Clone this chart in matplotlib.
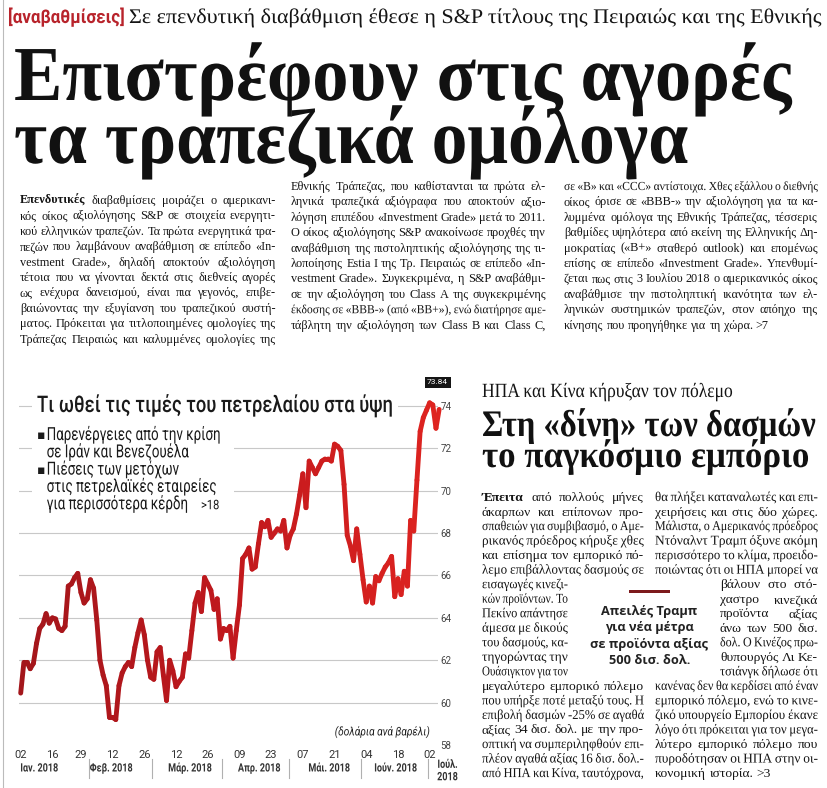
import matplotlib
matplotlib.use('Agg')
import matplotlib.pyplot as plt
from matplotlib.patches import Rectangle
from matplotlib.collections import LineCollection
from matplotlib.colors import LinearSegmentedColormap
from matplotlib.patheffects import AbstractPathEffect
from matplotlib.transforms import Affine2D
import numpy as np

W, H = 828, 788

# Τιμή πετρελαίου (δολάρια/βαρέλι), μία τιμή ανά εργάσιμη από 02/01/2018
timi = [
    60.45, 61.9, 61.9, 61.6, 61.85, 62.8, 63.5, 63.7, 64.2, 63.75,
    64.0, 63.95, 63.5, 63.4, 63.6, 65.5, 65.6, 65.9, 66.1, 65.2,
    64.7, 64.9, 65.8, 65.4, 63.9, 62.0, 61.3, 60.8, 59.3, 59.3,
    59.2, 60.8, 61.4, 61.7, 61.9, 61.7, 62.6, 63.3, 63.9, 63.2,
    62.0, 61.2, 61.1, 62.4, 62.6, 61.3, 60.1, 62.0, 61.5, 60.75,
    61.0, 61.2, 62.3, 62.1, 63.4, 64.7, 65.2, 64.3, 65.9, 65.6,
    65.3, 64.4, 64.9, 63.0, 63.5, 63.4, 63.6, 62.1, 63.4, 64.6,
    66.8, 67.0, 67.3, 66.3, 66.4, 67.5, 68.5, 68.3, 68.6, 67.8,
    68.0, 68.2, 68.1, 68.6, 67.3, 67.9, 68.2, 68.9, 69.8, 70.8,
    69.2, 71.4, 71.1, 70.8, 71.1, 71.4, 71.5, 71.5, 71.4, 72.2,
    72.1, 71.9, 70.3, 67.9, 67.4, 66.7, 68.2, 67.0, 65.8, 64.75,
    65.5, 64.7, 65.95, 65.75, 66.1, 66.4, 66.6, 66.9, 65.0, 65.85,
    65.1, 66.2, 65.5, 68.6, 68.1, 70.5, 72.8, 73.45, 73.8, 74.15,
    74.05, 72.95, 73.84,
]
tick_pos = [0, 10, 19, 29, 39, 49, 59, 69, 79, 89, 99, 109, 119, 129]
tick_lbl = ['02', '16', '29', '12', '26', '12', '26', '09', '23', '07', '21', '04', '18', '02']
mines = ['Ιαν. 2018', 'Φεβ. 2018', 'Μάρ. 2018', 'Απρ. 2018', 'Μάι. 2018', 'Ιούν. 2018', 'Ιούλ.\n2018']
orio_mina = [21.5, 41.5, 63.5, 84.5, 107.5, 128.5]
y_ticks = [58, 60, 62, 64, 66, 68, 70, 72, 74]

# Κείμενα σελίδας
kicker_red = '[αναβαθμίσεις]'
kicker = 'Σε επενδυτική διαβάθμιση έθεσε η S&P τίτλους της Πειραιώς και της Εθνικής'
titlos = ['Επιστρέφουν στις αγορές', 'τα τραπεζικά ομόλογα']

stili1 = [
    '*Επενδυτικές διαβαθμίσεις μοιράζει ο αμερικανι-',
    'κός οίκος αξιολόγησης S&P σε στοιχεία ενεργητι-',
    'κού ελληνικών τραπεζών. Τα πρώτα ενεργητικά τρα-',
    'πεζών που λαμβάνουν αναβάθμιση σε επίπεδο «In-',
    'vestment Grade», δηλαδή αποκτούν αξιολόγηση',
    'τέτοια που να γίνονται δεκτά στις διεθνείς αγορές',
    'ως ενέχυρα δανεισμού, είναι πια γεγονός, επιβε-',
    'βαιώνοντας την εξυγίανση του τραπεζικού συστή-',
    'ματος. Πρόκειται για τιτλοποιημένες ομολογίες της',
    'Τράπεζας Πειραιώς και καλυμμένες ομολογίες της',
]
stili2 = [
    'Εθνικής Τράπεζας, που καθίστανται τα πρώτα ελ-',
    'ληνικά τραπεζικά αξιόγραφα που αποκτούν αξιο-',
    'λόγηση επιπέδου «Investment Grade» μετά το 2011.',
    'Ο οίκος αξιολόγησης S&P ανακοίνωσε προχθές την',
    'αναβάθμιση της πιστοληπτικής αξιολόγησης της τι-',
    'λοποίησης Estia I της Τρ. Πειραιώς σε επίπεδο «In-',
    'vestment Grade». Συγκεκριμένα, η S&P αναβάθμι-',
    'σε την αξιολόγηση του Class A της συγκεκριμένης',
    'έκδοσης σε «BBB-» (από «BB+»), ενώ διατήρησε αμε-',
    'τάβλητη την αξιολόγηση των Class B και Class C,',
]
stili3 = [
    'σε «B» και «CCC» αντίστοιχα. Χθες εξάλλου ο διεθνής',
    'οίκος όρισε σε «BBB-» την αξιολόγηση για τα κα-',
    'λυμμένα ομόλογα της Εθνικής Τράπεζας, τέσσερις',
    'βαθμίδες υψηλότερα από εκείνη της Ελληνικής Δη-',
    'μοκρατίας («B+» σταθερό outlook) και επομένως',
    'επίσης σε επίπεδο «Investment Grade». Υπενθυμί-',
    'ζεται πως στις 3 Ιουλίου 2018 ο αμερικανικός οίκος',
    'αναβάθμισε την πιστοληπτική ικανότητα των ελ-',
    'ληνικών συστημικών τραπεζών, στον απόηχο της',
    'κίνησης που προηγήθηκε για τη χώρα. >7',
]

graf_titlos = 'Τι ωθεί τις τιμές του πετρελαίου στα ύψη'
koukides = [
    ('▪', 'Παρενέργειες από την κρίση'),
    ('', 'σε Ιράν και Βενεζουέλα'),
    ('▪', 'Πιέσεις των μετόχων'),
    ('', 'στις πετρελαϊκές εταιρείες'),
    ('', 'για περισσότερα κέρδη'),
]

kicker2 = 'ΗΠΑ και Κίνα κήρυξαν τον πόλεμο'
titlos2 = ['Στη «δίνη» των δασμών', 'το παγκόσμιο εμπόριο']
stiliA = [
    '*Έπειτα από πολλούς μήνες',
    'άκαρπων και επίπονων προ-',
    'σπαθειών για συμβιβασμό, ο Αμε-',
    'ρικανός πρόεδρος κήρυξε χθες',
    'και επίσημα τον εμπορικό πό-',
    'λεμο επιβάλλοντας δασμούς σε',
    'εισαγωγές κινεζι-',
    'κών προϊόντων. Το',
    'Πεκίνο απάντησε',
    'άμεσα με δικούς',
    'του δασμούς, κα-',
    'τηγορώντας την',
    'Ουάσιγκτον για τον',
    'μεγαλύτερο εμπορικό πόλεμο',
    'που υπήρξε ποτέ μεταξύ τους. Η',
    'επιβολή δασμών -25% σε αγαθά',
    'αξίας 34 δισ. δολ. με την προ-',
    'οπτική να συμπεριληφθούν επι-',
    'πλέον αγαθά αξίας 16 δισ. δολ.-',
    'από ΗΠΑ και Κίνα, ταυτόχρονα,',
]
stiliB = [
    'θα πλήξει καταναλωτές και επι-',
    'χειρήσεις και στις δύο χώρες.',
    'Μάλιστα, ο Αμερικανός πρόεδρος',
    'Ντόναλντ Τραμπ όξυνε ακόμη',
    'περισσότερο το κλίμα, προειδο-',
    'ποιώντας ότι οι ΗΠΑ μπορεί να',
    'βάλουν στο στό-',
    'χαστρο κινεζικά',
    'προϊόντα αξίας',
    'άνω των 500 δισ.',
    'δολ. Ο Κινέζος πρω-',
    'θυπουργός Λι Κε-',
    'τσιάνγκ δήλωσε ότι',
    'κανένας δεν θα κερδίσει από έναν',
    'εμπορικό πόλεμο, ενώ το κινε-',
    'ζικό υπουργείο Εμπορίου έκανε',
    'λόγο ότι πρόκειται για τον μεγα-',
    'λύτερο εμπορικό πόλεμο που',
    'πυροδότησαν οι ΗΠΑ στην οι-',
    'κονομική ιστορία. >3',
]
apospasma = ['Απειλές Τραμπ', 'για νέα μέτρα', 'σε προϊόντα αξίας', '500 δισ. δολ.']

# Γραμματοσειρές / χρώματα
SERIF = ['Liberation Serif', 'DejaVu Serif']
SANS = ['Roboto', 'Liberation Sans', 'DejaVu Sans']
INK = '#141414'

fig = plt.figure(figsize=(W / 100, H / 100), dpi=100)
fig.patch.set_facecolor('white')
r = fig.canvas.get_renderer()


class Psilo(AbstractPathEffect):
    # τεντώνει κάθετα το σχέδιο του κειμένου γύρω από ένα σημείο,
    # ώστε να μοιάζει με τα στενά τυπογραφικά της εφημερίδας
    def __init__(self, sy, cx, cy):
        super().__init__()
        self.t = Affine2D().translate(-cx, -cy).scale(1.0, sy).translate(cx, cy)

    def draw_path(self, renderer, gc, tpath, affine, rgbFace=None):
        renderer.draw_path(gc, tpath, affine + self.t, rgbFace)


def txt(x, y, s, **kw):
    # x, y σε pixel από πάνω αριστερά
    return fig.text(x / W, 1 - y / H, s, **kw)


def platos(s, **kw):
    t = txt(0, 0, s, fontsize=10, **kw)
    w = t.get_window_extent(r).width
    t.remove()
    return w


def stena(x0, y, s, size, x1=None, fs=None, **kw):
    # πλάτος από το x0..x1 (ή δοσμένο fs), ύψος σαν γραμματοσειρά μεγέθους size
    if fs is None:
        fs = 10 * (x1 - x0) / platos(s, **kw)
    t = txt(x0, y, s, fontsize=fs, **kw)
    t.set_path_effects([Psilo(size / fs, x0, H - y)])
    return t, fs


def megethos(lines, width):
    # μέγεθος ώστε η μέση γραμμή της στήλης να γεμίζει σχεδόν το πλάτος
    ws = sorted(platos(l.replace('*', ''), family=SERIF) for l in lines)
    return 10 * width / ws[len(ws) // 2] * 0.97


def grammi(x0, x1, y, line, size, justify=True):
    words = line.split(' ')
    parts = []
    for w in words:
        bold = w.startswith('*')
        if bold:
            w = w[1:]
        t = txt(x0, y, w, fontsize=size, family=SERIF, color=INK,
                weight='bold' if bold else 'normal')
        parts.append([t, t.get_window_extent(r).width])
    total = sum(p[1] for p in parts)
    n_gap = len(parts) - 1
    min_gap = size * 0.2 * 100 / 72
    need = total + n_gap * min_gap
    k = 1.0
    if need > x1 - x0:
        # η γραμμή δεν χωράει: στενεύει (ίδιο ύψος, μικρότερο πλάτος)
        k = (x1 - x0) / need
        for p in parts:
            p[0].set_fontsize(size * k)
            p[1] *= k
        total *= k
        min_gap *= k
    gap = size * 0.25 * 100 / 72
    if justify and n_gap > 0:
        gap = max((x1 - x0 - total) / n_gap, min_gap)
    x = x0
    for t, w in parts:
        t.set_x(x / W)
        if k < 1.0:
            t.set_path_effects([Psilo(1 / k, x, H - y)])
        x += w + gap


def stili(lines, x0, x1, y0, dy, size, last_free=False, narrow=None):
    for k, line in enumerate(lines):
        a, b = x0, x1
        if narrow and k in narrow[0]:
            a, b = narrow[1], narrow[2]
        free = last_free and k == len(lines) - 1
        grammi(a, b, y0 + k * dy, line, size, justify=not free)


# --- πάνω άρθρο ---
fig.add_artist(plt.Line2D([3 / W, 3 / W], [0, 1], color='#bbbbbb', lw=0.8))
stena(8, 23, kicker_red, 13.5, x1=125, family=SANS, weight='bold', color='#b8232b')
stena(129, 23, kicker, 15, x1=820, family=SERIF, color=INK)
stena(14, 100, titlos[0], 56, x1=794, family=SERIF, weight='bold', color='#111111')
stena(14, 163, titlos[1], 56, x1=690, family=SERIF, weight='bold', color='#111111')

s_top = megethos(stili1 + stili2 + stili3[:-1], 256)
stili(stili1, 20, 276, 204, 15.4, s_top)
stili(stili2, 291, 546, 190, 15.4, s_top)
stili(stili3, 564, 818, 190, 15.4, s_top, last_free=True)

# --- γράφημα ---
X0, DX = 20.7, 3.17
Y74, DY = 406, 21.19
L, R = X0 - 0.5 * DX, X0 + 131.6 * DX
T, B = Y74 - 0.8 * DY, 745
ax = fig.add_axes([L / W, 1 - B / H, (R - L) / W, (B - T) / H])
ax.patch.set_visible(False)
ax.set_xlim(-0.5, 131.6)
ax.set_ylim(58, 74.8)
for s in ax.spines.values():
    s.set_visible(False)

for v in y_ticks[1:]:
    ax.axhline(v, color='#c8c8c8', lw=0.8, zorder=1)

# η γραμμή: πιο σκούρο κόκκινο αριστερά, πιο ζωηρό δεξιά όπως στο σκαναρισμένο
xs = np.arange(len(timi))
pts = np.column_stack([xs, timi])
segs = np.stack([pts[:-1], pts[1:]], axis=1)
cmap = LinearSegmentedColormap.from_list('kokkino', ['#a3161b', '#c0181d', '#de2420'])
lc = LineCollection(segs, cmap=cmap, linewidths=3.5, capstyle='round',
                    joinstyle='round', clip_on=False, zorder=3)
lc.set_array(xs[:-1] / xs[-1])
ax.add_collection(lc)

ax.yaxis.tick_right()
ax.set_yticks(y_ticks)
ax.set_yticklabels([str(v) for v in y_ticks])
ax.tick_params(axis='y', length=0, pad=2, labelsize=7, labelcolor='#444444')
ax.set_xticks(tick_pos)
ax.set_xticklabels(tick_lbl)
ax.tick_params(axis='x', length=0, pad=3.5, labelsize=8, labelcolor='#333333')
for t in ax.get_yticklabels() + ax.get_xticklabels():
    t.set_family(SANS)

# μήνες και διαχωριστικά
mina_x = [5.8, 28.5, 53.4, 75.2, 97.3, 118.2, 134.6]
for m, xm in zip(mines, mina_x):
    yy = 56.78 if '\n' in m else 56.9
    t = ax.text(xm, yy, m, ha='center', va='center', fontsize=6.5, family=SANS,
                weight='bold', color='#333333', linespacing=1.1, clip_on=False)
    cx, cy = ax.transData.transform((xm, yy))
    t.set_path_effects([Psilo(1.28, cx, cy)])
for b in orio_mina:
    ax.plot([b, b], [57.35, 56.45], color='#b0b0b0', lw=0.8, clip_on=False)

t = ax.text(129, 58.63, '(δολάρια ανά βαρέλι)', ha='right', va='center', fontsize=7.3,
            family=SANS, style='italic', color='#222222')
cx, cy = ax.transData.transform((129, 58.63))
t.set_path_effects([Psilo(1.17, cx, cy)])
ax.text(131.5, 75.13, f'{timi[-1]:.2f}', ha='center', va='center', fontsize=6,
        family=SANS, color='white', clip_on=False,
        bbox=dict(boxstyle='square,pad=0.3', fc='#151515', ec='none'))

# λευκά πλαίσια κάτω από τίτλο και κουκίδες
for (x0, y0, x1, y1) in [(32, 390, 398, 418), (32, 422, 234, 514)]:
    ax.add_patch(Rectangle((x0 / W, 1 - y1 / H), (x1 - x0) / W, (y1 - y0) / H,
                           transform=fig.transFigure, fc='white', ec='none', zorder=2))

stena(37, 412, graf_titlos, 16.5, x1=393, family=SANS, weight='medium', color='#1a1a1a')
_, kfs = stena(46.7, 440, koukides[0][1], 13, x1=220, family=SANS, color='#1a1a1a')
for k, (bul, s) in enumerate(koukides):
    y = 440 + k * 17.3
    if k > 0:
        stena(46.7, y, s, 13, fs=kfs, family=SANS, color='#1a1a1a')
    if bul:
        txt(37, y - 1, bul, fontsize=9, family='DejaVu Sans', color='#1a1a1a')
stena(201, 440 + 4 * 17.3, '>18', 9.5, fs=8, family=SANS, color='#1a1a1a')

# --- δεξί άρθρο ---
stena(482, 397, kicker2, 14.5, x1=733, family=SERIF, color=INK)
stena(482, 436, titlos2[0], 27, x1=816, family=SERIF, weight='bold', color='#111111')
stena(482, 467, titlos2[1], 27, x1=810, family=SERIF, weight='bold', color='#111111')

narrow_k = range(6, 13)
s_right = s_top * 1.1
stili(stiliA, 482, 644, 501, 14.53, s_right, narrow=(narrow_k, 482, 568))
stili(stiliB, 655, 818, 501, 14.53, s_right, last_free=True, narrow=(narrow_k, 720, 818))

fig.add_artist(Rectangle((629 / W, 1 - 593 / H), 41 / W, 3 / H, transform=fig.transFigure,
                         fc='#7d1a1d', ec='none'))
PQ = ['Open Sans', 'DejaVu Sans']
pq_size = 10 * 117 / platos(apospasma[2], family=PQ, weight='bold')
for k, s in enumerate(apospasma):
    txt(649.5, 615 + k * 16.5, s, ha='center', fontsize=pq_size,
        family=PQ, weight='bold', color='#222222')

fig.savefig('out.png', dpi=100, facecolor='white')
